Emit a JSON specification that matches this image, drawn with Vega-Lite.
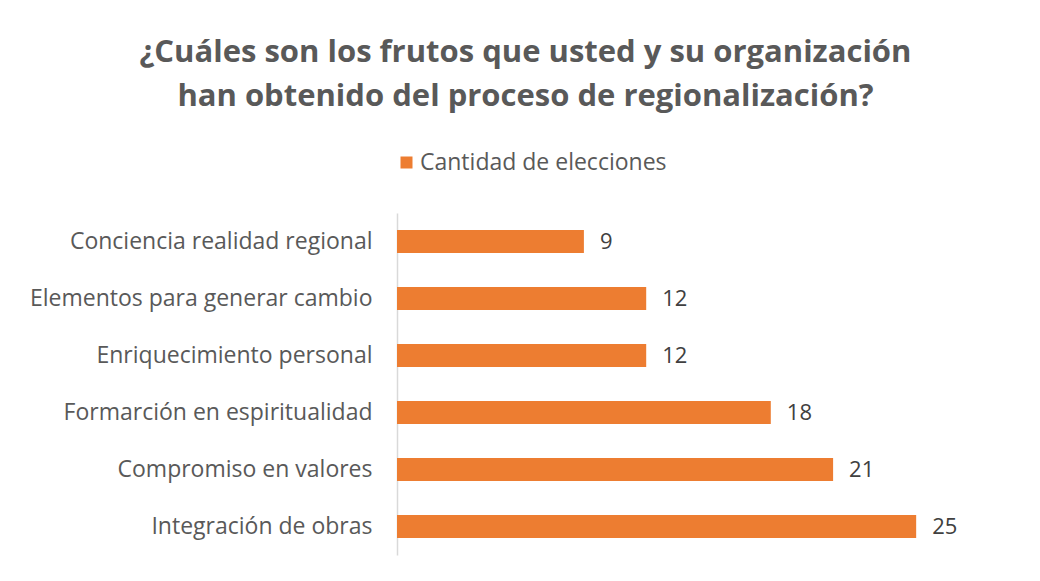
{
  "$schema": "https://vega.github.io/schema/vega-lite/v6.json",
  "width": 623,
  "height": 342,
  "autosize": {"type": "none"},
  "padding": {"left": 397, "top": 213, "right": 20, "bottom": 26},
  "background": "white",
  "config": {"view": {"stroke": null}},
  "title": {
    "text": ["¿Cuáles son los frutos que usted y su organización", "han obtenido del proceso de regionalización?"],
    "anchor": "middle",
    "frame": "group",
    "dx": -183,
    "font": "Open Sans",
    "fontSize": 31,
    "fontWeight": "bold",
    "color": "#595959",
    "lineHeight": 44,
    "offset": 38
  },
  "data": {
    "values": [
      {"categoria": "Conciencia realidad regional", "cantidad": 9},
      {"categoria": "Elementos para generar cambio", "cantidad": 12},
      {"categoria": "Enriquecimiento personal", "cantidad": 12},
      {"categoria": "Formarción en espiritualidad", "cantidad": 18},
      {"categoria": "Compromiso en valores", "cantidad": 21},
      {"categoria": "Integración de obras", "cantidad": 25}
    ]
  },
  "encoding": {
    "y": {
      "field": "categoria",
      "type": "nominal",
      "sort": ["Conciencia realidad regional", "Elementos para generar cambio", "Enriquecimiento personal", "Formarción en espiritualidad", "Compromiso en valores", "Integración de obras"],
      "scale": {"paddingInner": 0.6, "paddingOuter": 0.3},
      "axis": {
        "title": null,
        "domainColor": "#d9d9d9",
        "domainWidth": 1.5,
        "ticks": false,
        "labelPadding": 25,
        "labelFont": "Open Sans",
        "labelFontSize": 23,
        "labelColor": "#595959",
        "labelLimit": 400,
        "grid": false
      }
    },
    "x": {
      "field": "cantidad",
      "type": "quantitative",
      "scale": {"domain": [0, 30], "nice": false},
      "axis": null
    }
  },
  "layer": [
    {
      "mark": {"type": "bar"},
      "encoding": {
        "color": {
          "datum": "Cantidad de elecciones",
          "scale": {"range": ["#ED7D31"]},
          "legend": {
            "orient": "none",
            "legendX": -2,
            "legendY": -62,
            "title": null,
            "symbolType": "square",
            "symbolSize": 144,
            "symbolStrokeWidth": 0,
            "labelFont": "Open Sans",
            "labelFontSize": 23,
            "labelColor": "#595959",
            "labelOffset": 2,
            "labelLimit": 400
          }
        }
      }
    },
    {
      "mark": {"type": "text", "align": "left", "baseline": "middle", "dx": 16, "font": "Open Sans", "fontSize": 22, "color": "#404040"},
      "encoding": {"text": {"field": "cantidad", "type": "quantitative"}}
    }
  ]
}
